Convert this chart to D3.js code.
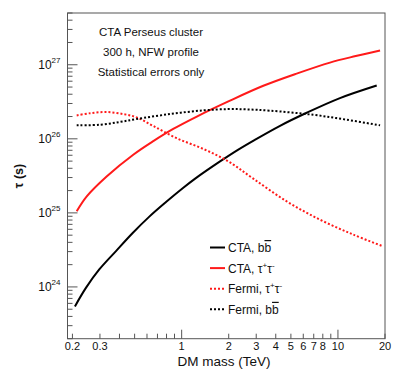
<!DOCTYPE html>
<html><head><meta charset="utf-8">
<script src="https://cdn.jsdelivr.net/npm/d3@7"></script>
<style>
body{margin:0;background:#fff;}
text{font-family:"Liberation Sans",Arial,sans-serif;}
</style></head>
<body><svg id="c" width="415" height="378"></svg>
<script>
// ---- data ----
const ctaBBMass   = [0.2075,0.244,0.297,0.38,0.486,0.621,0.794,1.015,1.22,1.76,2.29,2.94,4.26,6.31,10.3,17.7];
const ctaBBTau    = [5.46e23,9.7e23,1.72e24,3.05e24,5.35e24,8.9e24,1.4e25,2.15e25,2.9e25,4.95e25,7.1e25,9.7e25,1.5e26,2.25e26,3.55e26,5.25e26];
const ctaTTMass   = [0.213,0.247,0.331,0.49,0.658,0.883,1.25,1.99,3.33,5.44,8.89,13,18.6];
const ctaTTTau    = [1.05e25,1.67e25,3.1e25,6.1e25,9.3e25,1.36e26,2.0e26,3.2e26,5.2e26,7.6e26,1.07e27,1.31e27,1.56e27];
const fermiTTMass = [0.213,0.26,0.331,0.423,0.515,0.658,0.929,1.375,1.99,2.87,4.7,7.67,12.5,19];
const fermiTTTau  = [2.07e26,2.22e26,2.3e26,2.16e26,1.95e26,1.49e26,1.02e26,7.3e25,4.95e25,2.9e25,1.43e25,8.1e24,5.1e24,3.6e24];
const fermiBBMass = [0.213,0.3,0.403,0.515,0.842,1.375,1.99,2.6,3.67,6.95,11.4,18.6];
const fermiBBTau  = [1.52e26,1.55e26,1.69e26,1.85e26,2.16e26,2.42e26,2.52e26,2.5e26,2.4e26,2.11e26,1.81e26,1.52e26];
const xTickLabels = [0.2,0.3,1,2,3,4,5,6,7,8,10,20];
const yMajorExps  = [24,25,26,27];
const annotations = ["CTA Perseus cluster","300 h, NFW profile","Statistical errors only"];

const series = [
  {name:"CTA, bb", mass:ctaBBMass, tau:ctaBBTau, color:"#000", dash:null, kind:"bb"},
  {name:"CTA, tt", mass:ctaTTMass, tau:ctaTTTau, color:"#ff1a1a", dash:null, kind:"tt"},
  {name:"Fermi, tt", mass:fermiTTMass, tau:fermiTTTau, color:"#ff1a1a", dash:"2,2", kind:"tt"},
  {name:"Fermi, bb", mass:fermiBBMass, tau:fermiBBTau, color:"#000", dash:"2,2", kind:"bb"}
];

// ---- layout ----
const L=67.5, R=385, T=13, B=338.7;
const svg=d3.select("#c");
const x=d3.scaleLog().domain([0.186,20]).range([L,R]);
const y=d3.scaleLog().domain([2e23,5e27]).range([B,T]);
const axisCol="#555";

// frame
svg.append("rect").attr("x",L).attr("y",T).attr("width",R-L).attr("height",B-T)
  .attr("fill","none").attr("stroke",axisCol).attr("stroke-width",1);

// y ticks
const yTicks=[];
for(let e=23;e<=27;e++){for(let m=1;m<10;m++){const v=m*Math.pow(10,e); if(v>=2e23&&v<=5e27) yTicks.push({v,major:m===1});}}
svg.append("g").selectAll("line").data(yTicks).join("line")
  .attr("x1",L).attr("x2",d=>L+(d.major?10:5))
  .attr("y1",d=>y(d.v)).attr("y2",d=>y(d.v))
  .attr("stroke",axisCol).attr("stroke-width",1);
const yl=svg.append("g").selectAll("text").data(yMajorExps).join("text")
  .attr("x",L-7).attr("y",d=>y(Math.pow(10,d))+4.5)
  .attr("text-anchor","end").attr("font-size",12).attr("fill","#111");
yl.append("tspan").text("10");
yl.append("tspan").attr("dy",-6).attr("font-size",8).text(d=>d);

// x ticks
const xTicks=[];
for(let e=-1;e<=1;e++){for(let m=1;m<10;m++){const v=m*Math.pow(10,e); if(v>=0.186&&v<=20.01) xTicks.push({v,major:m===1});}}
svg.append("g").selectAll("line").data(xTicks).join("line")
  .attr("x1",d=>x(d.v)).attr("x2",d=>x(d.v))
  .attr("y1",B).attr("y2",d=>B-(d.major?9:5))
  .attr("stroke",axisCol).attr("stroke-width",1);
svg.append("g").selectAll("text").data(xTickLabels).join("text")
  .attr("x",d=>x(d)).attr("y",B+11.5)
  .attr("text-anchor","middle").attr("font-size",11).attr("fill","#111")
  .text(d=>d);

// axis titles
svg.append("text").attr("x",224).attr("y",365.5).attr("text-anchor","middle")
  .attr("font-size",13.5).attr("fill","#111").text("DM mass (TeV)");
svg.append("text").attr("transform","translate(23,176) rotate(-90)").attr("text-anchor","middle")
  .attr("font-size",12.5).attr("font-weight","bold").attr("fill","#111").text("τ (s)");

// annotations
svg.append("g").selectAll("text").data(annotations).join("text")
  .attr("x",151).attr("y",(d,i)=>36+i*20).attr("text-anchor","middle")
  .attr("font-size",11.5).attr("fill","#111").text(d=>d);

// curves
const line=d3.line().x(d=>x(d[0])).y(d=>y(d[1])).curve(d3.curveCatmullRom.alpha(0.5));
series.forEach(s=>{
  svg.append("path").datum(s.mass.map((m,i)=>[m,s.tau[i]]))
    .attr("d",line).attr("fill","none").attr("stroke",s.color)
    .attr("stroke-width",2).attr("stroke-dasharray",s.dash);
});

// legend
const lg=svg.append("g");
series.forEach((s,i)=>{
  const yy=247.5+i*20.6;
  lg.append("line").attr("x1",210).attr("x2",225).attr("y1",yy).attr("y2",yy)
    .attr("stroke",s.color).attr("stroke-width",2).attr("stroke-dasharray",s.dash);
  const t=lg.append("text").attr("x",228).attr("y",yy+4.5).attr("font-size",12).attr("fill","#111");
  const pre=s.name.split(",")[0]+", ";
  t.append("tspan").text(pre);
  if(s.kind==="bb"){
    t.append("tspan").text("b");
    t.append("tspan").attr("style","text-decoration:overline").text("b");
  } else {
    t.append("tspan").text("τ");
    t.append("tspan").attr("dy",-5).attr("font-size",8).text("+");
    t.append("tspan").attr("dy",5).text("τ");
    t.append("tspan").attr("dy",-5).attr("font-size",8).text("-");
  }
});
</script></body></html>
